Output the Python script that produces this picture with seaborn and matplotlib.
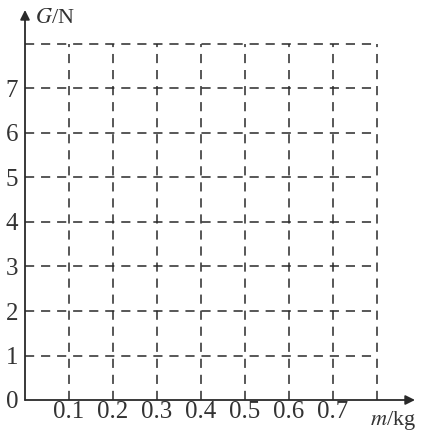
import pandas as pd
import matplotlib.pyplot as plt
import seaborn as sns

# valores de los ejes
x_ticks = [0.1, 0.2, 0.3, 0.4, 0.5, 0.6, 0.7]
x_labels = ["0.1", "0.2", "0.3", "0.4", "0.5", "0.6", "0.7"]
y_ticks = [0, 1, 2, 3, 4, 5, 6, 7]
y_labels = ["0", "1", "2", "3", "4", "5", "6", "7"]
grid_x = [0.1, 0.2, 0.3, 0.4, 0.5, 0.6, 0.7, 0.8]
grid_y = [1, 2, 3, 4, 5, 6, 7, 8]
x_max = 0.8
y_max = 8

sns.set_style("white")
plt.rcParams['font.family'] = ['Liberation Serif', 'DejaVu Serif']
plt.rcParams['mathtext.fontset'] = 'stix'

fig = plt.figure(figsize=(4.32, 4.37), dpi=100)
ax = fig.add_axes([25 / 432, 37 / 437, 390 / 432, 390 / 437])

# lineas de la cuadricula en formato largo
rows = []
for i, gx in enumerate(grid_x):
    rows.append({"x": gx, "y": 0, "id": f"v{i}"})
    rows.append({"x": gx, "y": y_max, "id": f"v{i}"})
for i, gy in enumerate(grid_y):
    rows.append({"x": 0, "y": gy, "id": f"h{i}"})
    rows.append({"x": x_max, "y": gy, "id": f"h{i}"})
df = pd.DataFrame(rows)

for name, g in df.groupby("id"):
    sns.lineplot(data=g, x="x", y="y", ax=ax, color="#2a2a2a", lw=1.1,
                 sort=False, estimator=None)
for ln in ax.lines:
    ln.set_dashes((6, 4.5))

ax.set_xlim(0, 390 / 440)
ax.set_ylim(0, 390 / 44.5)
for s in ax.spines.values():
    s.set_visible(False)

# ejes con flechas
ax.annotate("", xy=(ax.get_xlim()[1], 0), xytext=(0, 0),
            arrowprops=dict(arrowstyle="-|>", color="#2a2a2a", lw=1.3,
                            mutation_scale=14, shrinkA=0, shrinkB=0))
ax.annotate("", xy=(0, ax.get_ylim()[1]), xytext=(0, 0),
            arrowprops=dict(arrowstyle="-|>", color="#2a2a2a", lw=1.3,
                            mutation_scale=14, shrinkA=0, shrinkB=0))

ax.set_xticks(x_ticks)
ax.set_xticklabels(x_labels, fontsize=18, color="#333333")
ax.set_yticks(y_ticks)
ax.set_yticklabels(y_labels, fontsize=18, color="#333333")
ax.tick_params(axis="both", length=0)
ax.tick_params(axis="x", pad=1)
ax.tick_params(axis="y", pad=5)
ax.set_xlabel("")
ax.set_ylabel("")

ax.text(0.784, -0.47, "$\\it{m}$/kg", fontsize=16, ha="left", va="center",
        color="#333333", clip_on=False)
ax.text(0.023, 8.58, "$\\it{G}$/N", fontsize=16, ha="left", va="center",
        color="#333333", clip_on=False)

fig.savefig("out.png", dpi=100)
